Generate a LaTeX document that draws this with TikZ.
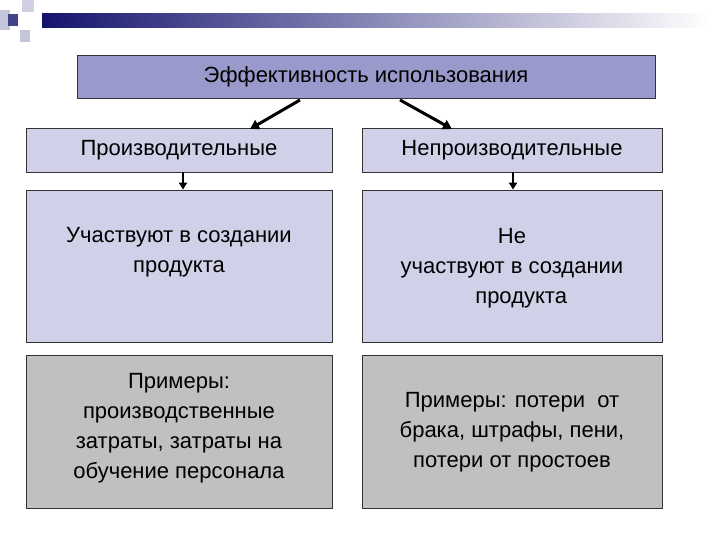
\documentclass[tikz,border=0pt]{standalone}
\usepackage{fontspec}
\setmainfont{Liberation Sans}
\usetikzlibrary{arrows.meta}
\definecolor{topc}{RGB}{153,153,204}
\definecolor{midc}{RGB}{208,208,232}
\definecolor{grayc}{RGB}{192,192,192}
\definecolor{navy}{RGB}{20,20,110}
\begin{document}
\begin{tikzpicture}[x=1pt,y=-1pt,
  box/.style={draw=black!80,line width=0.8pt,inner sep=0pt},
  txt/.style={inner sep=0pt,font=\fontsize{22}{30}\selectfont,align=center},
  arr/.style={-{Triangle[length=9pt,width=10pt]},line width=3pt},
  sarr/.style={-{Triangle[length=7pt,width=8pt]},line width=2pt}]
\useasboundingbox (0,0) rectangle (720,540);
\fill[white] (0,0) rectangle (720,540);
% decoration
\shade[left color=navy,right color=white] (42,14) rectangle (710,28);
\fill[navy!20] (22,0) rectangle (34,12);
\fill[navy!25] (0,10) rectangle (10,30);
\fill[navy!25] (20,30) rectangle (30,42);
\fill[navy!80] (8,14) rectangle (18,26);
% boxes
\node[box,fill=topc,minimum width=578pt,minimum height=43pt] (top) at (366,76.5) {};
\node[txt] at (top) {Эффективность использования};
\node[box,fill=midc,minimum width=306pt,minimum height=44pt] (p) at (179,150) {};
\node[txt] at (p) {Производительные};
\node[box,fill=midc,minimum width=300pt,minimum height=44pt] (n) at (512,150) {};
\node[txt] at (n) {Непроизводительные};
\node[box,fill=midc,minimum width=306pt,minimum height=152pt] (p2) at (179,266) {};
\node[txt] at (179,252) {Участвуют в создании\\продукта};
\node[box,fill=midc,minimum width=300pt,minimum height=152pt] (n2) at (512,266) {};
\node[txt] at (512,268) {Не\\участвуют в создании\\\ \ \ продукта};
\node[box,fill=grayc,minimum width=306pt,minimum height=153pt] (p3) at (179,431.5) {};
\node[txt] at (179,428) {Примеры:\\производственные\\затраты, затраты на\\обучение персонала};
\node[box,fill=grayc,minimum width=300pt,minimum height=153pt] (n3) at (512,431.5) {};
\node[txt] at (512,432) {Примеры: потери\ \ от\\брака, штрафы, пени,\\потери от простоев};
% arrows
\coordinate (a1) at (300,100);
\coordinate (b1) at (250,129);
\coordinate (a2) at (400,100);
\coordinate (b2) at (452,129);
\draw[arr] (a1) -- (b1);
\draw[arr] (a2) -- (b2);
\draw[sarr] (p.south -| 183,0) -- (p2.north -| 183,0);
\draw[sarr] (n.south -| 513,0) -- (n2.north -| 513,0);
\end{tikzpicture}
\end{document}
